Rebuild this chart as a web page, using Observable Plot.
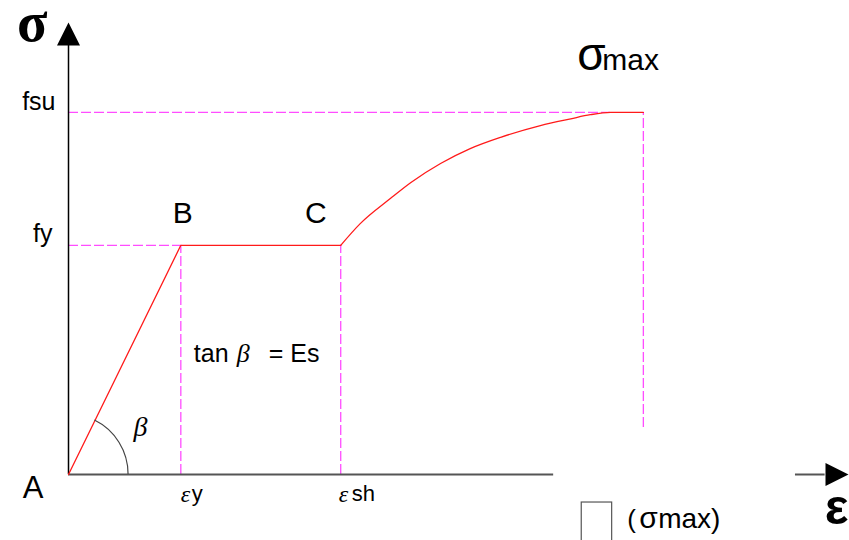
<!DOCTYPE html>
<html>
<head>
<meta charset="utf-8">
<script src="https://cdn.jsdelivr.net/npm/d3@7"></script>
<script src="https://cdn.jsdelivr.net/npm/@observablehq/plot@0.6"></script>
<style>
  html, body { margin: 0; padding: 0; background: #fff; }
  #chart svg { display: block; }
</style>
</head>
<body>
<div id="chart"></div>
<script>
// ---- data (normalised strain ε and stress σ units) ----
const epsY = 14.4;      // εy
const epsSh = 34.9;     // εsh
const epsMax = 73.7;    // strain at σmax
const fy = 50.7;        // yield stress
const fsu = 80.1;       // ultimate stress
// elastic + yield plateau: A -> B -> C
const plateauEps = [0, epsY, epsSh];
const plateauSig = [0, fy, fy];
// strain-hardening branch C -> σmax
const hardEps = [34.9, 37.4, 41.3, 43.9, 47.7, 51.5, 55.4, 60.5, 64.4, 66.9, 69.5, 73.7];
const hardSig = [50.7, 55.5, 61.1, 64.6, 68.8, 72.1, 74.6, 77.2, 78.7, 79.6, 80.1, 80.1];
// axes extents
const xAxisEnd = 62.2, xArrowStart = 93.2, xArrowBase = 97, xTip = 100;
const yArrowBase = 95, yTip = 100;
const maxDropEnd = 10.4;   // lower end of dashed line under σmax
const arcRadius = 7.7;     // β arc radius (strain units)
const boxEps = [65.8, 69.7];
const boxSig = [-6.2, -16];

const sans = "Liberation Sans, Arial, sans-serif";
const serif = "Liberation Serif, Times New Roman, serif";
const magenta = "#ff4dff";

const arrowSymbol = {
  draw(ctx) { ctx.moveTo(0, 0); ctx.lineTo(-11.5, 23); ctx.lineTo(11.5, 23); ctx.closePath(); }
};

function lab(t, x, y, o) {
  return Plot.text([t], {x: () => x, y: () => y, text: d => d, lineAnchor: "bottom", fill: "#000", fontFamily: sans, ...o});
}

// custom mark: angle arc β drawn through scales
function betaArc(index, scales) {
  const cx = scales.x(0), cy = scales.y(0);
  const r = scales.x(arcRadius) - scales.x(0);
  const th = Math.atan2(scales.y(0) - scales.y(fy), scales.x(epsY) - scales.x(0));
  const path = d3.create("svg:path")
    .attr("d", `M${cx + r},${cy} A${r},${r} 0 0 0 ${cx + r * Math.cos(th)},${cy - r * Math.sin(th)}`)
    .attr("fill", "none").attr("stroke", "#444").attr("stroke-width", 1.2);
  return path.node();
}

const chart = Plot.plot({
  width: 849,
  height: 540,
  x: {domain: [0, 100], range: [68, 848], axis: null},
  y: {domain: [0, 100], range: [474, 22], axis: null},
  style: {background: "#fff", overflow: "visible"},
  marks: [
    // dashed guides
    Plot.ruleY([fsu], {x1: 0, x2: 69.5, stroke: magenta, strokeDasharray: "10,3", strokeWidth: 1.3}),
    Plot.ruleY([fy], {x1: 0, x2: epsY, stroke: magenta, strokeDasharray: "10,3", strokeWidth: 1.3}),
    Plot.ruleX([epsY, epsSh], {y1: 0, y2: fy, stroke: magenta, strokeDasharray: "10,3", strokeWidth: 1.3}),
    Plot.ruleX([epsMax], {y1: maxDropEnd, y2: fsu, stroke: magenta, strokeDasharray: "10,3", strokeWidth: 1.3}),
    // axes
    Plot.ruleX([0], {y1: 0, y2: yArrowBase, stroke: "#000", strokeWidth: 1.5}),
    Plot.ruleY([0], {x1: 0, x2: xAxisEnd, stroke: "#555", strokeWidth: 2}),
    Plot.ruleY([0], {x1: xArrowStart, x2: xArrowBase, stroke: "#555", strokeWidth: 2}),
    Plot.dot([0], {x: 0, y: yTip, symbol: arrowSymbol, fill: "#000", stroke: "none"}),
    Plot.dot([0], {x: xTip, y: 0, symbol: arrowSymbol, fill: "#000", stroke: "none", rotate: 90}),
    // stress-strain curve
    Plot.line(plateauEps, {x: d => d, y: (d, i) => plateauSig[i], stroke: "#ff1a1a", strokeWidth: 1.3}),
    Plot.line(hardEps, {x: d => d, y: (d, i) => hardSig[i], stroke: "#ff1a1a", strokeWidth: 1.3, curve: "monotone-x"}),
    betaArc,
    // legend box
    Plot.rect([0], {x1: boxEps[0], x2: boxEps[1], y1: boxSig[0], y2: boxSig[1], fill: "none", stroke: "#555", strokeWidth: 1.2}),
    // labels
    lab("σ", 0, yTip, {textAnchor: "end", dx: -21, dy: 18, fontSize: 56, fontFamily: serif, fontWeight: "bold"}),
    lab("fsu", 0, fsu, {textAnchor: "end", dx: -13, dy: -2, fontSize: 25}),
    lab("fy", 0, fy, {textAnchor: "end", dx: -16, dy: -3, fontSize: 25}),
    lab("B", epsY, fy, {textAnchor: "middle", dx: 2, dy: -22, fontSize: 30}),
    lab("C", epsSh, fy, {textAnchor: "middle", dx: -25, dy: -22, fontSize: 30}),
    lab("σ", epsMax, fsu, {textAnchor: "start", dx: -66, dy: -42, fontSize: 46}),
    lab("max", epsMax, fsu, {textAnchor: "start", dx: -41, dy: -42, fontSize: 30}),
    lab("tan", epsY, fy, {textAnchor: "start", dx: 13, dy: 117, fontSize: 25}),
    lab("β", epsY, fy, {textAnchor: "start", dx: 56, dy: 117, fontSize: 26, fontFamily: serif, fontStyle: "italic"}),
    lab("= Es", epsY, fy, {textAnchor: "start", dx: 88, dy: 117, fontSize: 25}),
    lab("β", 0, 0, {textAnchor: "start", dx: 65, dy: -39, fontSize: 28, fontFamily: serif, fontStyle: "italic"}),
    lab("A", 0, 0, {textAnchor: "end", dx: -25, dy: 23, fontSize: 31}),
    lab("ε", epsY, 0, {textAnchor: "start", dx: 0, dy: 27, fontSize: 24, fontFamily: serif, fontStyle: "italic"}),
    lab("y", epsY, 0, {textAnchor: "start", dx: 11, dy: 26, fontSize: 22}),
    lab("ε", epsSh, 0, {textAnchor: "start", dx: -2, dy: 27, fontSize: 24, fontFamily: serif, fontStyle: "italic"}),
    lab("sh", epsSh, 0, {textAnchor: "start", dx: 11, dy: 26, fontSize: 22}),
    lab("ε", xTip, 0, {textAnchor: "end", dx: 0, dy: 49, fontSize: 50, fontWeight: "bold"}),
    lab("(", boxEps[1], 0, {textAnchor: "start", dx: 15, dy: 53, fontSize: 26}),
    lab("σ", boxEps[1], 0, {textAnchor: "start", dx: 27, dy: 53, fontSize: 30}),
    lab("max)", boxEps[1], 0, {textAnchor: "start", dx: 46, dy: 53, fontSize: 28})
  ]
});
document.getElementById("chart").append(chart);
</script>
</body>
</html>
